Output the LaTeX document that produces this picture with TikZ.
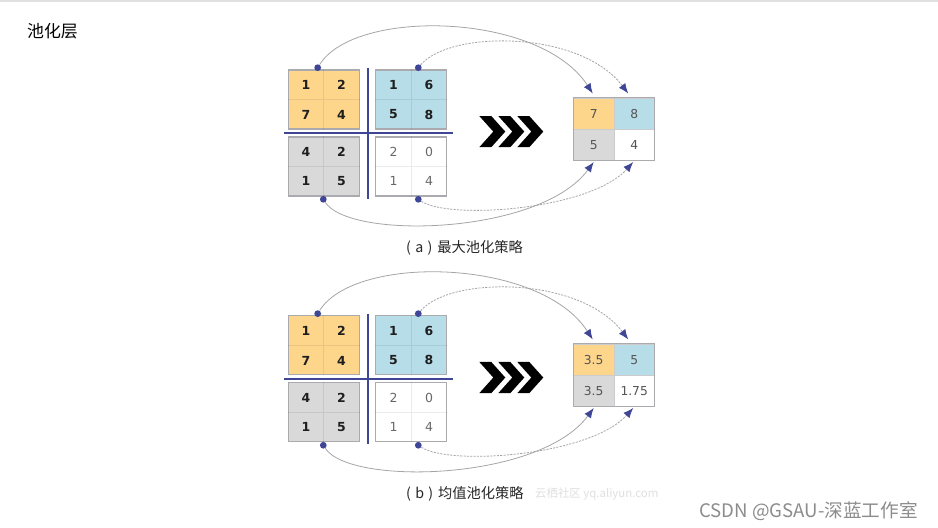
\documentclass[tikz,border=0pt]{standalone}
\usepackage{fontspec}
\setmainfont{DejaVu Sans}
\newfontfamily\cjk{Noto Sans CJK SC}
\definecolor{plorange}{RGB}{253,214,140}
\definecolor{plblue}{RGB}{183,221,232}
\definecolor{plgray}{RGB}{217,217,217}
\definecolor{plline}{RGB}{63,70,150}
\definecolor{plcurve}{RGB}{165,165,165}
\definecolor{plborder}{RGB}{170,170,175}
\definecolor{pltext}{RGB}{30,30,30}
\definecolor{plsoft}{RGB}{105,105,105}
\usetikzlibrary{arrows.meta}
\tikzset{
  blk/.style={draw=plborder, line width=0.6pt, minimum width=1.42cm, minimum height=1.18cm, inner sep=0pt},
  inner/.style={draw=black, draw opacity=0.08, line width=0.5pt},
  num/.style={font=\fontsize{7.1}{8}\selectfont\bfseries, text=pltext, inner sep=0pt},
  softnum/.style={font=\fontsize{7.1}{8}\selectfont, text=plsoft, inner sep=0pt},
  outcell/.style={draw=plborder!60, line width=0.4pt, minimum width=0.81cm, minimum height=0.62cm, inner sep=0pt, font=\fontsize{7}{8}\selectfont, text=plsoft!80!black},
  cross/.style={draw=plline, line width=1.2pt},
  dot/.style={circle, fill=plline, inner sep=0pt, minimum size=0.135cm},
  link/.style={draw=plcurve, line width=0.45pt, -{Latex[length=0.2cm, width=0.16cm, color=plline]}},
  dlink/.style={link, dash pattern=on 1.2pt off 0.7pt},
  caption/.style={anchor=west, font=\cjk\fontsize{8.1}{10}\selectfont, text=black!85},
}

\begin{document}
\begin{tikzpicture}[x=0.02cm, y=-0.02cm]
  \useasboundingbox (0,0) rectangle (938,528);
  \fill[white] (0,0) rectangle (938,528);
  \fill[black!12] (0,0) rectangle (938,1.6);

  \node[anchor=west, font=\cjk\fontsize{9.6}{11}\selectfont] (title) at (21,31) {池化层};

  %--- (a) max pooling ---
  \begin{scope}
    % input blocks
    \node[blk, fill=plorange] (ora) at (323.8,99.5) {};
    \node[blk, fill=plblue] (bla) at (411.2,99.5) {};
    \node[blk, fill=plgray] (gra) at (323.8,166.5) {};
    \node[blk, fill=white] (wha) at (411.2,166.5) {};
    \foreach \b in {ora,bla,gra,wha}
      \draw[inner] (\b.north) -- (\b.south) (\b.west) -- (\b.east);

    \node[num] (ora1) at (306,85) {1};   \node[num] (ora2) at (341.5,85) {2};
    \node[num] (ora3) at (306,114.5) {7}; \node[num] (ora4) at (341.5,114.5) {4};
    \node[num] (bla1) at (393.5,85) {1};   \node[num] (bla2) at (429,85) {6};
    \node[num] (bla3) at (393.5,114.5) {5}; \node[num] (bla4) at (429,114.5) {8};
    \node[num] (gra1) at (306,152) {4};   \node[num] (gra2) at (341.5,152) {2};
    \node[num] (gra3) at (306,181) {1};   \node[num] (gra4) at (341.5,181) {5};
    \node[softnum] (wha1) at (393.5,152) {2}; \node[softnum] (wha2) at (429,152) {0};
    \node[softnum] (wha3) at (393.5,181) {1}; \node[softnum] (wha4) at (429,181) {4};

    % dividing cross
    \draw[cross] (367.7,68) -- (367.7,198.5);
    \draw[cross] (284,133.3) -- (453.3,133.3);

    % chevrons
    \foreach \cx in {479.3,498.3,517.3}
      \fill[black] (\cx,116) -- ++(12,0) -- ++(14,15.6) -- ++(-14,15.6) -- ++(-12,0) -- ++(14,-15.6) -- cycle;

    % pooled output
    \node[outcell, fill=plorange] (oa1) at (593.7,113.8) {7};
    \node[outcell, fill=plblue] (oa2) at (634.2,113.8) {8};
    \node[outcell, fill=plgray] (oa3) at (593.7,144.7) {5};
    \node[outcell, fill=white] (oa4) at (634.2,144.7) {4};
    \draw[draw=plborder, line width=0.6pt] (oa1.north west) rectangle (oa4.south east);

    % links
    \node[dot] (da1) at (317.7,67.7) {};
    \node[dot] (da2) at (418.3,67.7) {};
    \node[dot] (da3) at (323.3,199.3) {};
    \node[dot] (da4) at (418.3,199.3) {};
    \draw[link] (da1) .. controls (355,8) and (540,12) .. ([xshift=-0.02cm, yshift=0.09cm]oa1.north);
    \draw[dlink] (da2) .. controls (450,30) and (580,30) .. ([xshift=-0.12cm, yshift=0.09cm]oa2.north);
    \draw[link] (da3) .. controls (350,240) and (540,235) .. ([yshift=-0.03cm]oa3.south);
    \draw[dlink] (da4) .. controls (450,220) and (590,210) .. ([xshift=-0.02cm, yshift=-0.03cm]oa4.south);
  \end{scope}

  \node[caption] (capa) at (400,248) {(\hspace{0.3em}a\hspace{0.3em})\hspace{0.35em}最大池化策略};

  %--- (b) average pooling ---
  \begin{scope}[yshift=-4.92cm]
    % input blocks
    \node[blk, fill=plorange] (orb) at (323.8,99.5) {};
    \node[blk, fill=plblue] (blb) at (411.2,99.5) {};
    \node[blk, fill=plgray] (grb) at (323.8,166.5) {};
    \node[blk, fill=white] (whb) at (411.2,166.5) {};
    \foreach \b in {orb,blb,grb,whb}
      \draw[inner] (\b.north) -- (\b.south) (\b.west) -- (\b.east);

    \node[num] (orb1) at (306,85) {1};   \node[num] (orb2) at (341.5,85) {2};
    \node[num] (orb3) at (306,114.5) {7}; \node[num] (orb4) at (341.5,114.5) {4};
    \node[num] (blb1) at (393.5,85) {1};   \node[num] (blb2) at (429,85) {6};
    \node[num] (blb3) at (393.5,114.5) {5}; \node[num] (blb4) at (429,114.5) {8};
    \node[num] (grb1) at (306,152) {4};   \node[num] (grb2) at (341.5,152) {2};
    \node[num] (grb3) at (306,181) {1};   \node[num] (grb4) at (341.5,181) {5};
    \node[softnum] (whb1) at (393.5,152) {2}; \node[softnum] (whb2) at (429,152) {0};
    \node[softnum] (whb3) at (393.5,181) {1}; \node[softnum] (whb4) at (429,181) {4};

    % dividing cross
    \draw[cross] (367.7,68) -- (367.7,198.5);
    \draw[cross] (284,133.3) -- (453.3,133.3);

    % chevrons
    \foreach \cx in {479.3,498.3,517.3}
      \fill[black] (\cx,116) -- ++(12,0) -- ++(14,15.6) -- ++(-14,15.6) -- ++(-12,0) -- ++(14,-15.6) -- cycle;

    % pooled output
    \node[outcell, fill=plorange] (ob1) at (593.7,113.8) {3.5};
    \node[outcell, fill=plblue] (ob2) at (634.2,113.8) {5};
    \node[outcell, fill=plgray] (ob3) at (593.7,144.7) {3.5};
    \node[outcell, fill=white] (ob4) at (634.2,144.7) {1.75};
    \draw[draw=plborder, line width=0.6pt] (ob1.north west) rectangle (ob4.south east);

    % links
    \node[dot] (db1) at (317.7,67.7) {};
    \node[dot] (db2) at (418.3,67.7) {};
    \node[dot] (db3) at (323.3,199.3) {};
    \node[dot] (db4) at (418.3,199.3) {};
    \draw[link] (db1) .. controls (355,8) and (540,12) .. ([xshift=-0.02cm, yshift=0.09cm]ob1.north);
    \draw[dlink] (db2) .. controls (450,30) and (580,30) .. ([xshift=-0.12cm, yshift=0.09cm]ob2.north);
    \draw[link] (db3) .. controls (350,240) and (540,235) .. ([yshift=-0.03cm]ob3.south);
    \draw[dlink] (db4) .. controls (450,220) and (590,210) .. ([xshift=-0.02cm, yshift=-0.03cm]ob4.south);
  \end{scope}

  \node[caption] (capb) at (400,494) {(\hspace{0.3em}b\hspace{0.3em})\hspace{0.35em}均值池化策略};
  \node[anchor=west, font=\cjk\fontsize{6.5}{8}\selectfont, text=black!12] (wmark) at (529,494) {云栖社区 yq.aliyun.com};
  \node[anchor=west, font=\cjk\fontsize{10.6}{12}\selectfont, text=black!45] (csdn) at (693,511) {CSDN @GSAU-深蓝工作室};
\end{tikzpicture}
\end{document}
